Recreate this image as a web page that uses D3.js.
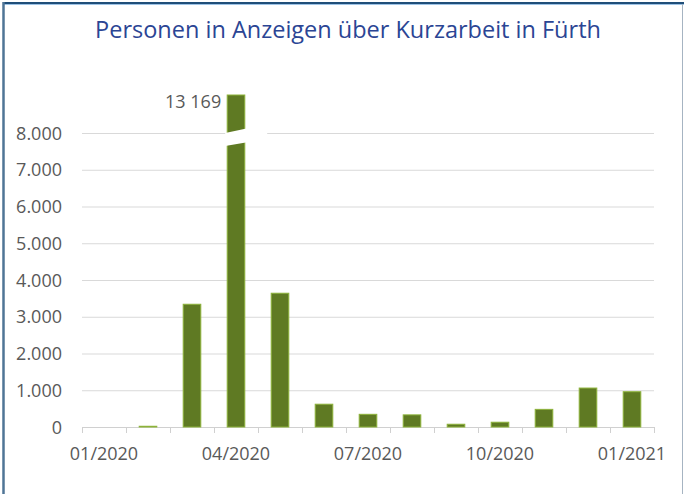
<!DOCTYPE html>
<html>
<head>
<meta charset="utf-8">
<script src="https://cdn.jsdelivr.net/npm/d3@7"></script>
<style>
  body { margin: 0; background: #fff; }
  text { font-family: "Open Sans", sans-serif; }
</style>
</head>
<body>
<div id="chart"></div>
<script>
// data
const months = ["01/2020","02/2020","03/2020","04/2020","05/2020","06/2020","07/2020",
                "08/2020","09/2020","10/2020","11/2020","12/2020","01/2021"];
const persons = [0, 20, 3340, 13169, 3640, 620, 345, 330, 75, 130, 480, 1060, 960];
const yTicks = [0, 1000, 2000, 3000, 4000, 5000, 6000, 7000, 8000];
const xLabels = ["01/2020","04/2020","07/2020","10/2020","01/2021"];

const W = 684, H = 494;
const svg = d3.select("#chart").append("svg")
    .attr("width", W).attr("height", H);

// frame
svg.append("line").attr("x1", 3).attr("x2", 684).attr("y1", 3).attr("y2", 3)
    .attr("stroke", "#1f4e79").attr("stroke-width", 2);
svg.append("line").attr("x1", 3).attr("x2", 684).attr("y1", 4.5).attr("y2", 4.5)
    .attr("stroke", "#9dc3e6").attr("stroke-width", 1);
svg.append("line").attr("x1", 3.5).attr("x2", 3.5).attr("y1", 2).attr("y2", 494)
    .attr("stroke", "#4f7596").attr("stroke-width", 2.5);
svg.append("line").attr("x1", 682.5).attr("x2", 682.5).attr("y1", 4).attr("y2", 494)
    .attr("stroke", "#a6b4c2").attr("stroke-width", 1);

// title
svg.append("text")
    .attr("x", 348).attr("y", 38)
    .attr("text-anchor", "middle")
    .attr("font-size", "23.5px")
    .attr("fill", "#2b4594")
    .text("Personen in Anzeigen über Kurzarbeit in Fürth");

const x = d3.scaleBand().domain(months).range([82, 654]).paddingInner(0.6).paddingOuter(0.3);
const y = d3.scaleLinear().domain([0, 8000]).range([427, 133]);
const bandX = d3.scaleBand().domain(months).range([82, 654]);

// gridlines
svg.append("g").selectAll("line")
  .data(yTicks.filter(d => d > 0))
  .join("line")
    .attr("x1", 82).attr("x2", 654)
    .attr("y1", d => y(d) + 0.5).attr("y2", d => y(d) + 0.5)
    .attr("stroke", "#d9d9d9").attr("stroke-width", 1);

// y labels
svg.append("g").selectAll("text")
  .data(yTicks)
  .join("text")
    .attr("x", 62).attr("y", d => y(d) + 6.5)
    .attr("text-anchor", "end")
    .attr("font-size", "18px")
    .attr("fill", "#595959")
    .text(d => d === 0 ? "0" : d3.format(",")(d).replace(/,/g, "."));

// x axis line and ticks
const axis = svg.append("g");
axis.append("line").attr("x1", 82).attr("x2", 654).attr("y1", 427.5).attr("y2", 427.5)
    .attr("stroke", "#d0d0d0");
axis.selectAll("line.tick")
  .data(months.concat(["end"]))
  .join("line")
    .attr("class", "tick")
    .attr("x1", (d, i) => 82 + i * bandX.bandwidth() + 0.5)
    .attr("x2", (d, i) => 82 + i * bandX.bandwidth() + 0.5)
    .attr("y1", 427).attr("y2", 433)
    .attr("stroke", "#d0d0d0");
axis.selectAll("text")
  .data(xLabels)
  .join("text")
    .attr("x", d => bandX(d) + bandX.bandwidth() / 2)
    .attr("y", 460)
    .attr("text-anchor", "middle")
    .attr("font-size", "18px")
    .attr("fill", "#595959")
    .text(d => d);

// bars (the outlier is clipped at the top of the plot)
const topY = 95;
svg.append("g").selectAll("rect")
  .data(persons.map((v, i) => ({m: months[i], v})).filter(d => d.v > 0))
  .join("rect")
    .attr("x", d => x(d.m))
    .attr("y", d => Math.max(y(d.v), topY))
    .attr("width", x.bandwidth())
    .attr("height", d => y(0) - Math.max(y(d.v), topY))
    .attr("fill", "#5f7a23")
    .attr("stroke", "#8db33a")
    .attr("stroke-width", 1);

// break marker on the outlier bar
const big = months[persons.indexOf(d3.max(persons))];
const bx = x(big);
svg.append("polygon")
    .attr("points", [
      [bx - 2, 133], [bx + 40, 124], [bx + 40, 139], [bx - 2, 146]
    ].map(p => p.join(",")).join(" "))
    .attr("fill", "#fff");

svg.append("text")
    .attr("x", bx - 6).attr("y", 108)
    .attr("text-anchor", "end")
    .attr("font-size", "18px")
    .attr("fill", "#595959")
    .text(d3.max(persons).toLocaleString("de-DE").replace(".", " "));
</script>
</body>
</html>
